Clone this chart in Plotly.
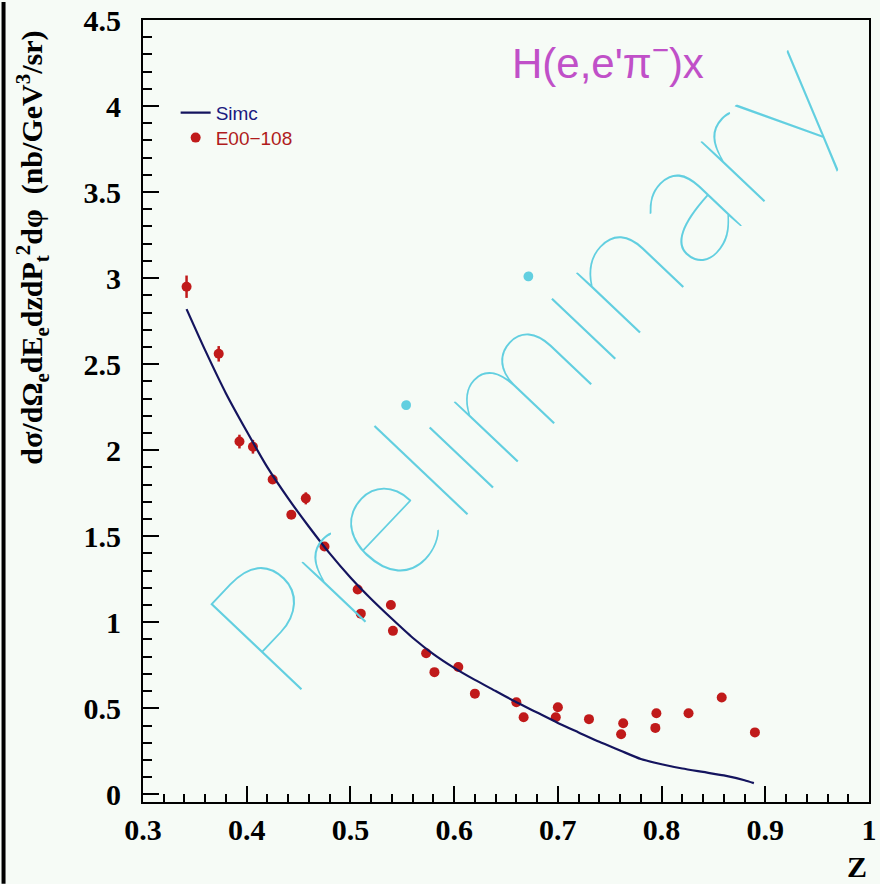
import plotly.graph_objects as go

# ---- data ----
z_data = [0.342, 0.373, 0.393, 0.406, 0.425, 0.443, 0.457, 0.475, 0.507, 0.510,
          0.539, 0.541, 0.573, 0.581, 0.604, 0.620, 0.660, 0.667, 0.700, 0.698,
          0.730, 0.763, 0.761, 0.795, 0.794, 0.826, 0.858, 0.890]
xs_data = [2.95, 2.56, 2.05, 2.02, 1.83, 1.625, 1.72, 1.44, 1.19, 1.05,
           1.10, 0.95, 0.82, 0.71, 0.74, 0.585, 0.535, 0.448, 0.506, 0.448,
           0.437, 0.413, 0.349, 0.471, 0.386, 0.471, 0.563, 0.36]
err_data = [0.065, 0.045, 0.04, 0.04, 0.025, 0.025, 0.035, 0.02, 0.02, 0.02,
            0.02, 0.02, 0.015, 0.015, 0.015, 0.015, 0.015, 0.015, 0.015, 0.015,
            0.015, 0.015, 0.015, 0.015, 0.015, 0.015, 0.015, 0.015]

z_simc = [0.342, 0.36, 0.38, 0.40, 0.42, 0.44, 0.46, 0.48, 0.50, 0.52,
          0.54, 0.56, 0.58, 0.60, 0.62, 0.64, 0.66, 0.68, 0.70, 0.72,
          0.74, 0.76, 0.78, 0.80, 0.82, 0.84, 0.86, 0.88, 0.889]
xs_simc = [2.82, 2.58, 2.33, 2.11, 1.90, 1.72, 1.555, 1.40, 1.26, 1.135,
           1.02, 0.91, 0.815, 0.735, 0.665, 0.60, 0.535, 0.475, 0.415, 0.36,
           0.305, 0.255, 0.205, 0.175, 0.15, 0.13, 0.11, 0.082, 0.065]

x_ticks = [0.3, 0.4, 0.5, 0.6, 0.7, 0.8, 0.9, 1.0]
x_ticktext = ["0.3", "0.4", "0.5", "0.6", "0.7", "0.8", "0.9", "1"]
y_ticks = [0, 0.5, 1, 1.5, 2, 2.5, 3, 3.5, 4, 4.5]
y_ticktext = ["0", "0.5", "1", "1.5", "2", "2.5", "3", "3.5", "4", "4.5"]

BG = "#f6fbf6"
W, H = 880, 884
ML, MR, MT, MB = 143, 3, 18, 82
PW, PH = W - ML - MR, H - MT - MB


def px(x):
    return (x - ML) / PW


def py(y):
    return 1 - (y - MT) / PH


fig = go.Figure()

fig.add_trace(go.Scatter(
    x=z_data, y=xs_data, mode="markers", name="E00\u2212108", legend="legend2",
    marker=dict(symbol="circle", size=10, color="#c01a1a"),
    error_y=dict(type="data", array=err_data, visible=True, color="#c01a1a",
                 thickness=2.5, width=0),
))

fig.add_trace(go.Scatter(
    x=z_simc, y=xs_simc, mode="lines", name="Simc", legend="legend",
    line=dict(color="#14145e", width=2.2, shape="spline", smoothing=0.6),
))

# watermark
fig.add_annotation(
    text="Preliminary", xref="paper", yref="paper", x=px(525), y=py(357),
    xanchor="center", yanchor="middle", textangle=-46.5, showarrow=False,
    font=dict(family="Lato Hairline, Lato Thin, Roboto Thin, DejaVu Sans ExtraLight, Lato",
              size=178, color="#62cfe0", weight=100),
)

# reaction label
fig.add_annotation(
    text="H(e,e'\u03c0<sup>\u2212</sup>)x", xref="paper", yref="paper",
    x=px(613), y=py(58), xanchor="center", yanchor="middle", showarrow=False,
    font=dict(family="Liberation Sans", size=42, color="#c050c8"),
)

# y title
fig.add_annotation(
    text="d\u03c3/d\u03a9<sub>e</sub>dE<sub>e</sub>dzdP<sub>t</sub><sup>2</sup>d\u03c6  (nb/GeV<sup>3</sup>/sr)",
    xref="paper", yref="paper", x=px(31), y=py(246), xanchor="center", yanchor="middle",
    textangle=-90, showarrow=False,
    font=dict(family="Liberation Serif", size=30, color="black", weight="bold"),
)

# x title
fig.add_annotation(
    text="Z", xref="paper", yref="paper", x=1, y=py(867), xanchor="right", yanchor="middle",
    showarrow=False,
    font=dict(family="Liberation Serif", size=30, color="black", weight="bold"),
)

# left border line of the picture
fig.add_shape(type="line", xref="paper", yref="paper", x0=px(2), x1=px(2),
              y0=py(H), y1=py(0), line=dict(color="black", width=4))

axis_font = dict(family="Liberation Serif", size=30, color="black", weight="bold")

fig.update_xaxes(
    range=[0.3, 1.0], tickvals=x_ticks, ticktext=x_ticktext,
    showline=True, linecolor="black", linewidth=2, mirror=True,
    ticks="inside", ticklen=16, tickwidth=2, tickcolor="black",
    minor=dict(dtick=0.02, ticks="inside", ticklen=8, tickwidth=2, tickcolor="black"),
    showgrid=False, zeroline=False, tickfont=axis_font, ticklabelstandoff=0,
    ticklabeloverflow="allow",
)
fig.update_yaxes(
    range=[-0.0446, 4.5], tickvals=y_ticks, ticktext=y_ticktext,
    showline=True, linecolor="black", linewidth=2, mirror=True,
    ticks="inside", ticklen=16, tickwidth=2, tickcolor="black",
    minor=dict(dtick=0.1, tick0=0, ticks="inside", ticklen=9, tickwidth=2, tickcolor="black"),
    showgrid=False, zeroline=False, tickfont=axis_font, ticklabelstandoff=14,
    ticklabeloverflow="allow",
)

fig.update_layout(
    width=W, height=H, margin=dict(l=ML, r=MR, t=MT, b=MB),
    paper_bgcolor=BG, plot_bgcolor=BG,
    legend=dict(x=px(176), y=py(92), xanchor="left", yanchor="top",
                bgcolor="rgba(0,0,0,0)", itemwidth=30,
                font=dict(family="Liberation Sans", size=19, color="#1a1a80")),
    legend2=dict(x=px(176), y=py(117), xanchor="left", yanchor="top",
                 bgcolor="rgba(0,0,0,0)", itemwidth=30,
                 font=dict(family="Liberation Sans", size=19, color="#b01c1c")),
    showlegend=True,
)

fig.write_html("out.html")
